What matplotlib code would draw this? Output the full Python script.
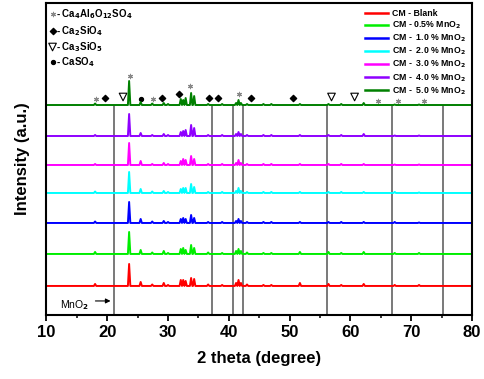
import numpy as np
import matplotlib.pyplot as plt

plt.rcParams['font.family'] = ['Liberation Sans', 'DejaVu Sans']
plt.rcParams['font.weight'] = 'bold'

# Peak positions (2 theta) shared by all patterns
peak_pos = [18.0, 23.6, 25.5, 27.4, 29.3, 30.0, 32.1, 32.5, 32.9, 33.8, 34.3,
            36.6, 38.9, 41.2, 41.6, 42.0, 43.0, 45.7, 47.0, 51.7, 56.4, 58.5,
            62.2, 67.3, 71.3]

# Peak heights (a.u.) for each sample
labels = ['CM - Blank', 'CM - 0.5% MnO$_2$', 'CM -  1.0 % MnO$_2$', 'CM -  2.0 % MnO$_2$',
          'CM -  3.0 % MnO$_2$', 'CM -  4.0 % MnO$_2$', 'CM -  5.0 % MnO$_2$']
colors = ['#ff0000', '#00ee00', '#0000ff', '#00ffff', '#ff00ff', '#8f00ff', '#008000']
offsets = [29, 61, 92, 122, 150, 179, 210]
heights = [
    [2, 22, 4, 1.5, 3, 1, 6, 6, 5, 8, 7, 1.5, 1, 3, 6, 3, 1.5, 1, 1, 3, 2, 1, 2, 1, 1],
    [2, 22, 4, 1.5, 3, 1, 5, 6, 4, 9, 6, 1.5, 1, 3, 5, 3, 1.5, 1, 1, 2, 2, 1, 2, 1, 1],
    [1.5, 21, 4, 1.5, 2, 1, 4, 5, 4, 8, 5, 1, 1, 2, 4, 2, 1, 1, 1, 1, 1, 1, 1, 1, 0.5],
    [1.5, 21, 4, 1.5, 2, 1, 4, 5, 5, 9, 6, 1, 1, 2, 5, 2, 1, 1, 1, 1, 1, 1, 1, 1, 0.5],
    [1, 22, 4, 1, 2, 1, 4, 6, 5, 9, 6, 1, 1, 2, 5, 2, 1, 1, 1, 1, 1, 1, 1, 0.5, 0.5],
    [1, 22, 3, 1, 2, 1, 4, 5, 6, 11, 8, 1, 1, 2, 4, 2, 1, 1, 1, 1, 1, 1, 2, 0.5, 0.5],
    [1.5, 24, 3, 1.5, 2, 1, 6, 5, 7, 12, 9, 1, 1, 2, 5, 2, 1, 1, 1, 1, 1, 1, 2, 0.5, 0.5],
]

# Reference lines (2 theta)
ref_lines = [21.05, 37.2, 40.7, 42.4, 56.1, 66.9, 75.2]

# Phase markers above the top pattern
star_pos = [18.1, 23.7, 27.6, 33.6, 41.7, 64.5, 67.8, 72.1]
star_y = [216, 239, 216, 229, 221, 214, 214, 214]
diamond_pos = [19.7, 29.0, 31.8, 36.8, 38.2, 43.7, 50.5]
diamond_y = [217, 217, 221, 217, 217, 217, 217]
tri_pos = [22.6, 56.9, 60.7]
tri_y = [218, 218, 218]
dot_pos = [25.6]
dot_y = [216]

fig = plt.figure(figsize=(4.84, 3.79), dpi=100)
ax = fig.add_axes([0.096, 0.169, 0.879, 0.823])

w = 0.2
for lab, col, off, hs in zip(labels, colors, offsets, heights):
    xs = [10]
    ys = [off]
    for p, h in zip(peak_pos, hs):
        xs += [p - w, p, p + w]
        ys += [off, off + h, off]
    xs.append(80)
    ys.append(off)
    ax.plot(xs, ys, color=col, lw=1.4, label=lab)

ax.vlines(ref_lines, 0, offsets[-1], color='#555555', lw=1.1, zorder=0)

ax.scatter(star_pos, star_y, marker=(6, 2, 0), s=10, color='#888888', lw=0.8)
ax.scatter(diamond_pos, diamond_y, marker='D', s=10, color='black')
ax.scatter(tri_pos, tri_y, marker='v', s=30, facecolor='none', edgecolor='black', lw=0.8)
ax.scatter(dot_pos, dot_y, marker='o', s=8, color='black')

# phase legend (top left)
phase_text = ['Ca$_4$Al$_6$O$_{12}$SO$_4$', 'Ca$_2$SiO$_4$', 'Ca$_3$SiO$_5$', 'CaSO$_4$']
phase_y = [301, 284, 268, 253]
ax.scatter([11.0], [phase_y[0]], marker=(6, 2, 0), s=10, color='#888888', lw=0.8)
ax.scatter([11.0], [phase_y[1]], marker='D', s=10, color='black')
ax.scatter([11.0], [phase_y[2]], marker='v', s=30, facecolor='none', edgecolor='black', lw=0.8)
ax.scatter([11.0], [phase_y[3]], marker='o', s=8, color='black')
for t, y in zip(phase_text, phase_y):
    ax.text(11.6, y, '- ' + t, fontsize=7, fontweight='bold', va='center')

ax.annotate('', xy=(21.0, 14), xytext=(17.6, 14),
            arrowprops=dict(arrowstyle='-|>', color='black', lw=0.8, mutation_scale=7))
ax.text(12.2, 10, 'MnO$_2$', fontsize=7.5, fontweight='normal', va='center')

ax.set_xlim(10, 80)
ax.set_ylim(0, 312)
ax.set_yticks([])
ax.set_xticks(range(10, 81, 10))
ax.set_xticks(range(15, 80, 10), minor=True)
ax.tick_params(axis='x', which='major', direction='out', length=4, width=1.3, labelsize=12)
ax.tick_params(axis='x', which='minor', direction='out', length=2.5, width=1.1)
for lbl in ax.get_xticklabels():
    lbl.set_fontweight('bold')
for s in ax.spines.values():
    s.set_linewidth(1.5)

ax.set_xlabel('2 theta (degree)', fontsize=12, fontweight='bold', labelpad=8)
ax.set_ylabel('Intensity (a.u.)', fontsize=12, fontweight='bold', labelpad=12)

leg = ax.legend(loc='upper right', frameon=False, fontsize=6.3, handlelength=2.6,
                labelspacing=0.18, borderaxespad=0.3, handletextpad=0.5)
for t in leg.get_texts():
    t.set_fontweight('bold')
for h in leg.get_lines():
    h.set_linewidth(1.8)

fig.savefig('out.png', dpi=100)
